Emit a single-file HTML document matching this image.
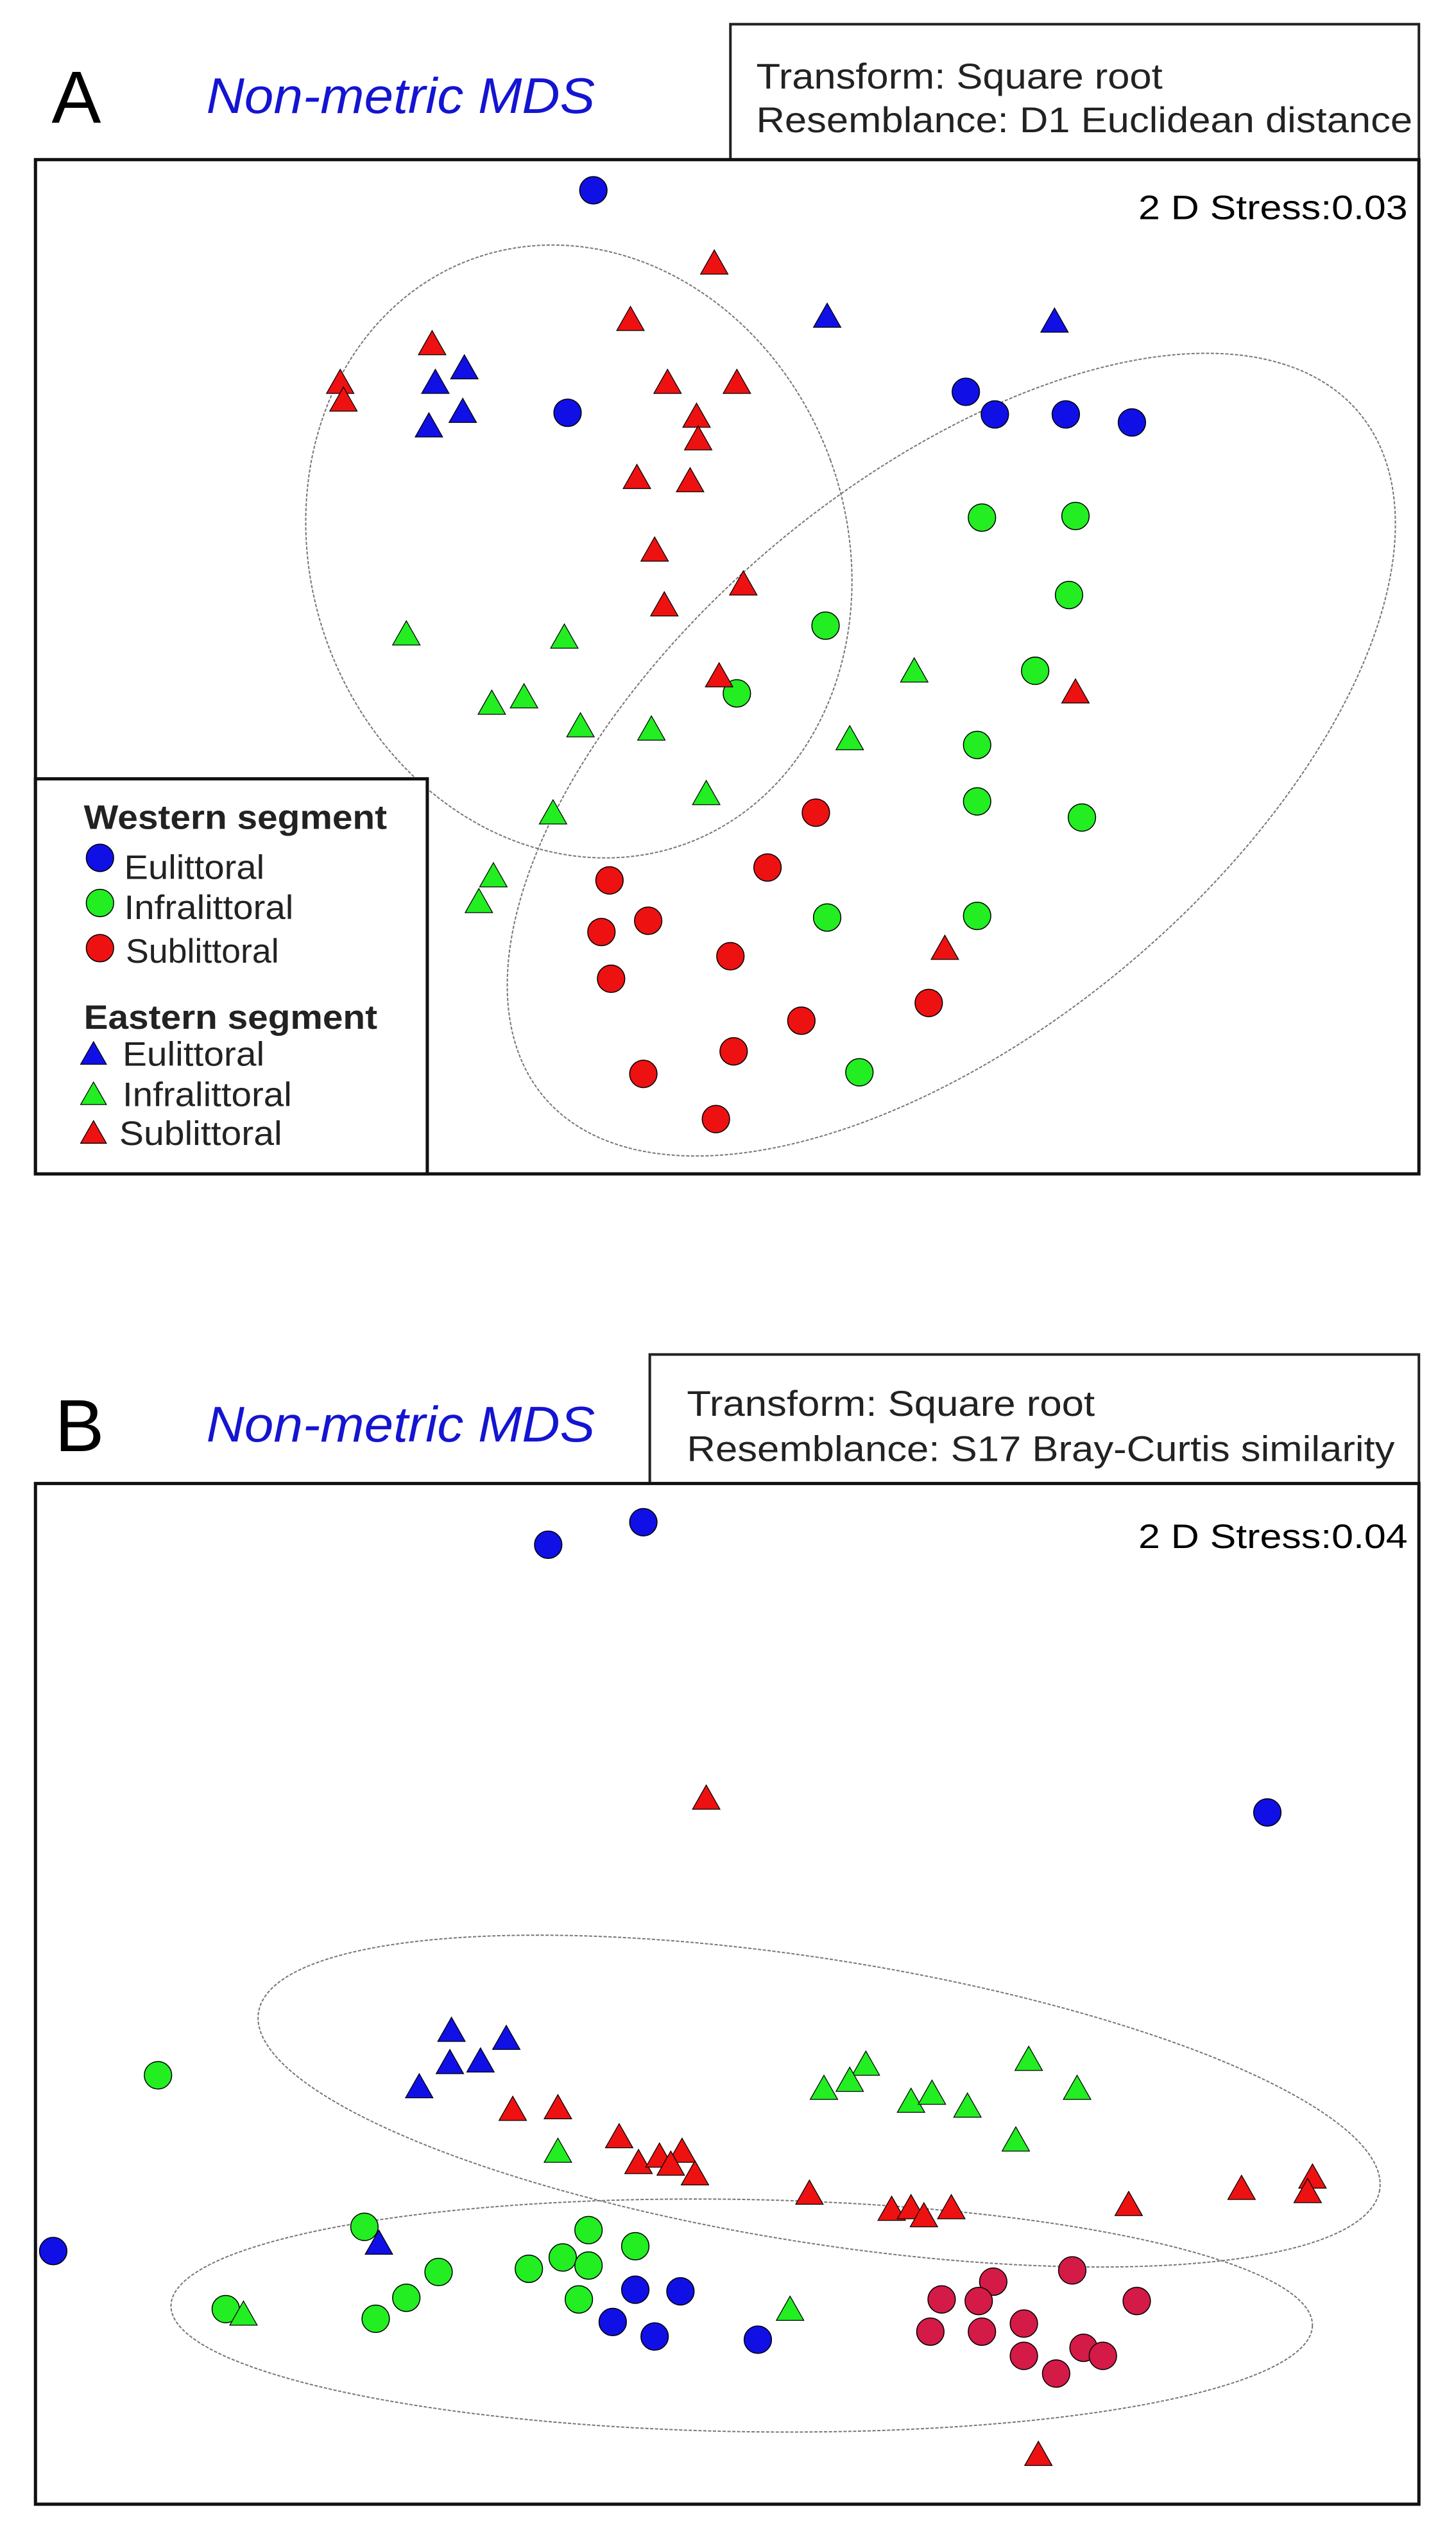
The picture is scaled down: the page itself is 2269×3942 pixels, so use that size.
<!DOCTYPE html>
<html><head><meta charset="utf-8"><style>
html,body{margin:0;padding:0;background:#fff}
svg{display:block}
text{font-family:"Liberation Sans",Arial,sans-serif}
</style></head><body>
<svg id="fig" width="2269" height="3942" viewBox="0 0 903 1569" preserveAspectRatio="none" xmlns="http://www.w3.org/2000/svg">
<g>
 <text x="32" y="76" font-size="46">A</text>
 <text x="128" y="70" font-size="31" font-style="italic" fill="#1414d2" textLength="241" lengthAdjust="spacingAndGlyphs">Non-metric MDS</text>
 <rect x="453" y="15" width="427" height="84" fill="#fff" stroke="#222" stroke-width="1.6"/>
 <text x="469" y="55" font-size="22" fill="#222" textLength="252" lengthAdjust="spacingAndGlyphs">Transform: Square root</text>
 <text x="469" y="82" font-size="22" fill="#222" textLength="407" lengthAdjust="spacingAndGlyphs">Resemblance: D1 Euclidean distance</text>
 <rect x="22" y="99" width="858" height="629" fill="none" stroke="#111" stroke-width="2"/>
 <text x="706" y="136" font-size="21" textLength="167" lengthAdjust="spacingAndGlyphs">2 D Stress:0.03</text>
 <ellipse cx="359" cy="342" rx="166" ry="193" transform="rotate(-20 359 342)" fill="none" stroke="#777" stroke-width="0.8" stroke-dasharray="2 1"/>
 <ellipse cx="590" cy="468" rx="330" ry="170" transform="rotate(-40 590 468)" fill="none" stroke="#777" stroke-width="0.8" stroke-dasharray="2 1"/>
 <g id="marksA"></g>
 <g>
  <rect x="22" y="483" width="243" height="245" fill="#fff" stroke="#111" stroke-width="2"/>
  <text x="52" y="514" font-size="21" font-weight="bold" fill="#222" textLength="188" lengthAdjust="spacingAndGlyphs">Western segment</text>
  <circle cx="62" cy="532" r="8.5" fill="#1010e6" stroke="#000" stroke-width="0.6"/>
  <text x="77" y="545" font-size="21" fill="#222" textLength="87" lengthAdjust="spacingAndGlyphs">Eulittoral</text>
  <circle cx="62" cy="560" r="8.5" fill="#22ee22" stroke="#000" stroke-width="0.6"/>
  <text x="77" y="570" font-size="21" fill="#222" textLength="105" lengthAdjust="spacingAndGlyphs">Infralittoral</text>
  <circle cx="62" cy="588" r="8.5" fill="#ee1111" stroke="#000" stroke-width="0.6"/>
  <text x="78" y="597" font-size="21" fill="#222" textLength="95" lengthAdjust="spacingAndGlyphs">Sublittoral</text>
  <text x="52" y="638" font-size="21" font-weight="bold" fill="#222" textLength="182" lengthAdjust="spacingAndGlyphs">Eastern segment</text>
  <polygon points="50,660 66,660 58,646" fill="#1010e6" stroke="#000" stroke-width="0.5"/>
  <text x="76" y="661" font-size="21" fill="#222" textLength="88" lengthAdjust="spacingAndGlyphs">Eulittoral</text>
  <polygon points="50,685 66,685 58,671" fill="#22ee22" stroke="#000" stroke-width="0.5"/>
  <text x="76" y="686" font-size="21" fill="#222" textLength="105" lengthAdjust="spacingAndGlyphs">Infralittoral</text>
  <polygon points="50,709 66,709 58,695" fill="#ee1111" stroke="#000" stroke-width="0.5"/>
  <text x="74" y="710" font-size="21" fill="#222" textLength="101" lengthAdjust="spacingAndGlyphs">Sublittoral</text>
 </g>
</g>
<g>
 <text x="34" y="900" font-size="46">B</text>
 <text x="128" y="894" font-size="31" font-style="italic" fill="#1414d2" textLength="241" lengthAdjust="spacingAndGlyphs">Non-metric MDS</text>
 <rect x="403" y="840" width="477" height="80" fill="#fff" stroke="#222" stroke-width="1.6"/>
 <text x="426" y="878" font-size="22" fill="#222" textLength="253" lengthAdjust="spacingAndGlyphs">Transform: Square root</text>
 <text x="426" y="906" font-size="22" fill="#222" textLength="439" lengthAdjust="spacingAndGlyphs">Resemblance: S17 Bray-Curtis similarity</text>
 <rect x="22" y="920" width="858" height="633" fill="none" stroke="#111" stroke-width="2"/>
 <text x="706" y="960" font-size="21" textLength="167" lengthAdjust="spacingAndGlyphs">2 D Stress:0.04</text>
 <ellipse cx="508" cy="1303" rx="352" ry="88" transform="rotate(9 508 1303)" fill="none" stroke="#777" stroke-width="0.8" stroke-dasharray="2 1"/>
 <ellipse cx="460" cy="1436" rx="354" ry="72" transform="rotate(1 460 1436)" fill="none" stroke="#777" stroke-width="0.8" stroke-dasharray="2 1"/>
 <g id="marksB"></g>
</g>
</svg>
<script>
// Panel A (D1 Euclidean) MDS coordinates
const aWestEuX=[-0.82,-0.98,1.49,1.67,2.11,2.52];
const aWestEuY=[2.97,1.59,1.72,1.58,1.58,1.53];
const aWestInX=[1.59,2.17,2.13,0.62,1.92,0.07,1.56,1.56,2.21,0.63,1.56,0.83];
const aWestInY=[0.94,0.95,0.46,0.27,-0.01,-0.15,-0.47,-0.82,-0.92,-1.54,-1.53,-2.50];
const aWestSuX=[0.56,-0.72,0.26,-0.77,-0.48,0.03,-0.71,0.47,1.26,-0.51,0.05,-0.06];
const aWestSuY=[-0.89,-1.31,-1.23,-1.63,-1.56,-1.78,-1.92,-2.18,-2.07,-2.51,-2.37,-2.79];
const aEastEuX=[0.63,2.04,-1.62,-1.80,-1.63,-1.84];
const aEastEuY=[2.19,2.16,1.87,1.78,1.60,1.51];
const aEastInX=[-1.98,-1.00,-1.45,-1.25,-0.90,-0.46,1.17,0.77,-0.12,-1.07,-1.44,-1.53];
const aEastInY=[0.22,0.20,-0.21,-0.17,-0.35,-0.37,-0.01,-0.43,-0.77,-0.89,-1.28,-1.44];
const aEastSuX=[-0.07,-0.59,-1.82,-2.39,-2.37,-0.36,0.07,-0.18,-0.17,-0.55,-0.22,-0.44,0.11,-0.38,-0.04,2.17,1.36];
const aEastSuY=[2.52,2.17,2.02,1.78,1.67,1.78,1.78,1.57,1.43,1.19,1.17,0.74,0.53,0.40,-0.04,-0.14,-1.73];
// Panel B (S17 Bray-Curtis) MDS coordinates
const bWestEuX=[-1.10,-0.51,3.36,-4.17,-0.56,-0.28,-0.70,-0.44,0.20];
const bWestEuY=[2.82,2.96,1.16,-1.56,-1.80,-1.81,-2.00,-2.09,-2.11];
const bWestInX=[-3.52,-2.24,-0.85,-0.56,-1.01,-0.85,-1.22,-1.78,-1.98,-2.17,-0.91,-3.10];
const bWestInY=[-0.47,-1.41,-1.43,-1.53,-1.60,-1.65,-1.67,-1.69,-1.85,-1.98,-1.86,-1.92];
const bWestSuX=[2.15,1.66,1.34,1.57,2.55,1.27,1.59,1.85,1.85,2.22,2.34,2.05];
const bWestSuY=[-1.68,-1.75,-1.86,-1.87,-1.87,-2.06,-2.06,-2.01,-2.21,-2.16,-2.21,-2.32];
const bEastEuX=[-1.70,-1.36,-1.71,-1.52,-1.90,-2.15];
const bEastEuY=[-0.19,-0.24,-0.39,-0.38,-0.54,-1.51];
const bEastInX=[0.87,0.77,0.61,1.88,2.18,1.15,1.28,1.50,1.80,-1.04,-2.99,0.40];
const bEastInY=[-0.40,-0.50,-0.55,-0.37,-0.55,-0.63,-0.58,-0.66,-0.87,-0.94,-1.95,-1.92];
const bEastSuX=[-0.12,-1.32,-1.04,-0.66,-0.54,-0.41,-0.27,-0.34,-0.19,0.52,1.03,1.15,1.23,1.40,2.50,3.20,3.64,3.61,1.94];
const bEastSuY=[1.25,-0.68,-0.67,-0.85,-1.01,-0.97,-0.94,-1.02,-1.08,-1.20,-1.30,-1.29,-1.34,-1.29,-1.27,-1.17,-1.10,-1.19,-2.82];

const NS='http://www.w3.org/2000/svg';
function sxA(v){return 450+v*100;} function syA(v){return 415-v*100;}
function sxB(v){return 450+v*100;} function syB(v){return 1240-v*100;}
const BLUE='#1010e6',GREEN='#22ee22',RED='#ee1111',CRIMSON='#d41a46';

function drawCircles(g,xs,ys,sx,sy,color,name){
  for(let i=0;i<xs.length;i++){
    const c=document.createElementNS(NS,'circle');
    c.setAttribute('cx',sx(xs[i]));c.setAttribute('cy',sy(ys[i]));
    c.setAttribute('r',8.5);c.setAttribute('fill',color);
    c.setAttribute('stroke','#000');c.setAttribute('stroke-width',0.6);
    
    
    g.appendChild(c);
  }
}
function drawTris(g,xs,ys,sx,sy,color,name){
  for(let i=0;i<xs.length;i++){
    const x=sx(xs[i]),y=sy(ys[i]);
    const p=document.createElementNS(NS,'polygon');
    p.setAttribute('points',(x-8.5)+','+(y+7)+' '+(x+8.5)+','+(y+7)+' '+x+','+(y-8));
    p.setAttribute('fill',color);p.setAttribute('stroke','#000');p.setAttribute('stroke-width',0.5);
    
    
    g.appendChild(p);
  }
}
const gA=document.getElementById('marksA');
drawCircles(gA,aWestEuX,aWestEuY,sxA,syA,BLUE,'western-eulittoral-point');
drawCircles(gA,aWestInX,aWestInY,sxA,syA,GREEN,'western-infralittoral-point');
drawCircles(gA,aWestSuX,aWestSuY,sxA,syA,RED,'western-sublittoral-point');
drawTris(gA,aEastEuX,aEastEuY,sxA,syA,BLUE,'eastern-eulittoral-point');
drawTris(gA,aEastInX,aEastInY,sxA,syA,GREEN,'eastern-infralittoral-point');
drawTris(gA,aEastSuX,aEastSuY,sxA,syA,RED,'eastern-sublittoral-point');
const gB=document.getElementById('marksB');
drawCircles(gB,bWestEuX,bWestEuY,sxB,syB,BLUE,'western-eulittoral-point');
drawCircles(gB,bWestInX,bWestInY,sxB,syB,GREEN,'western-infralittoral-point');
drawCircles(gB,bWestSuX,bWestSuY,sxB,syB,CRIMSON,'western-sublittoral-point');
drawTris(gB,bEastEuX,bEastEuY,sxB,syB,BLUE,'eastern-eulittoral-point');
drawTris(gB,bEastInX,bEastInY,sxB,syB,GREEN,'eastern-infralittoral-point');
drawTris(gB,bEastSuX,bEastSuY,sxB,syB,RED,'eastern-sublittoral-point');
</script>
</body></html>
